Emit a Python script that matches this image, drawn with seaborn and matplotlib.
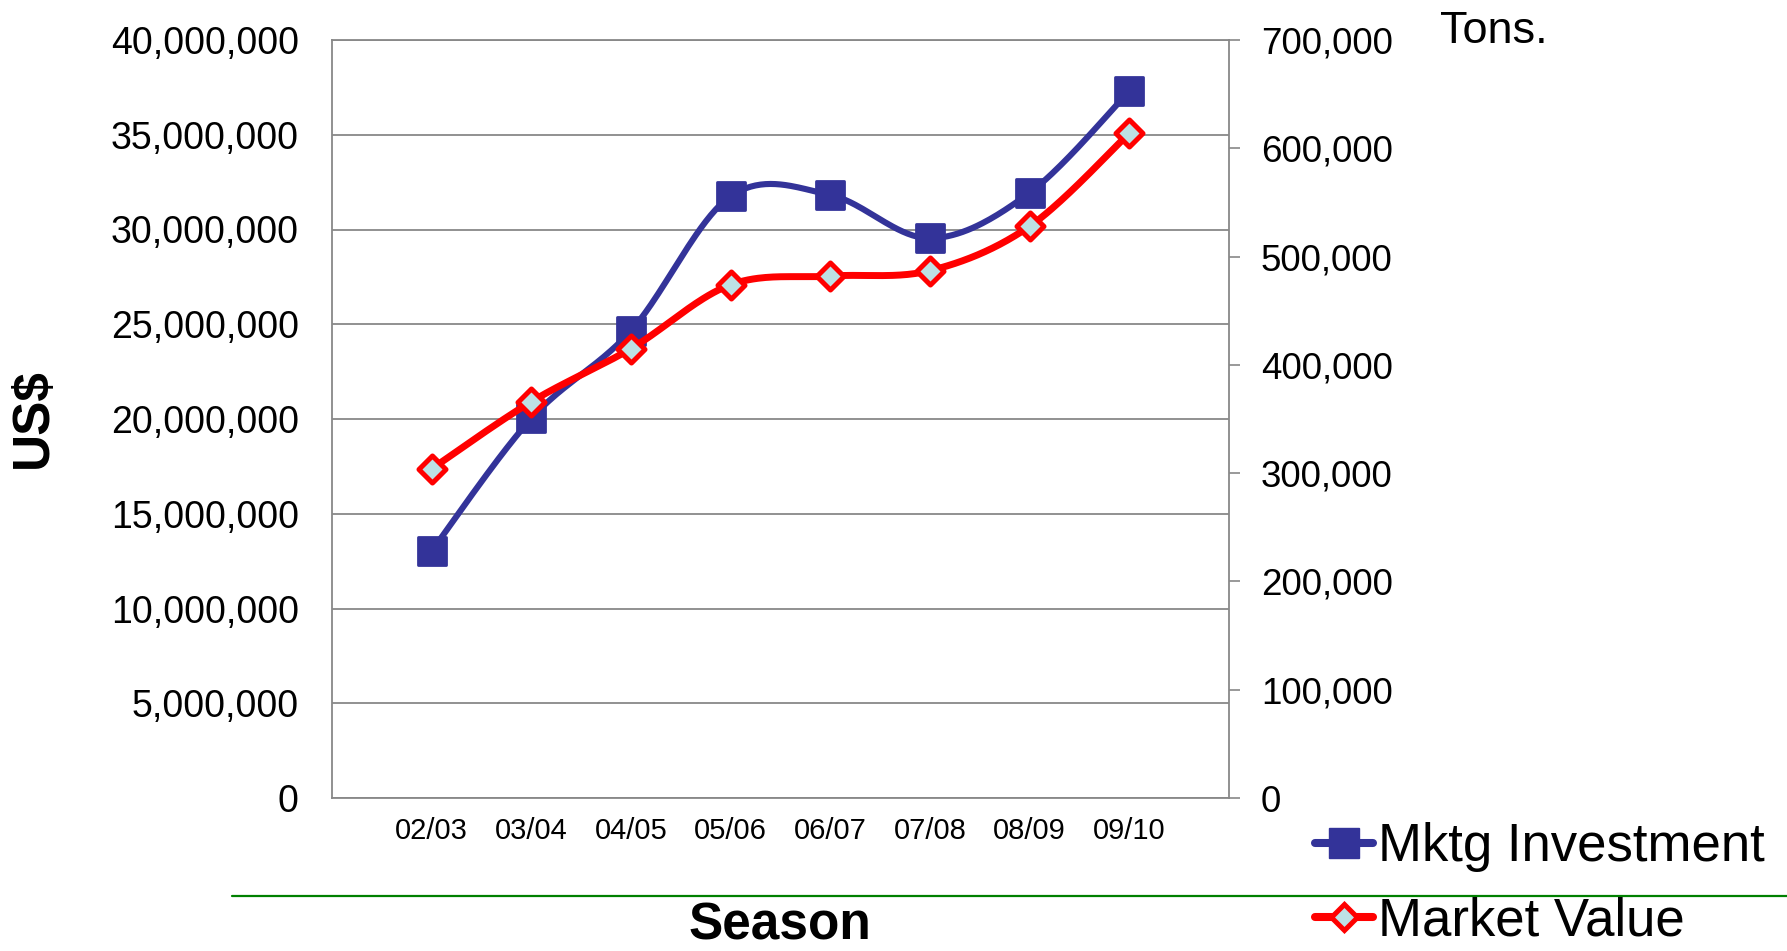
import numpy as np
import pandas as pd
import matplotlib
matplotlib.use("Agg")
import matplotlib.pyplot as plt
from matplotlib.lines import Line2D
from matplotlib.ticker import FuncFormatter
import seaborn as sns

# ---- data ----
seasons = ["02/03", "03/04", "04/05", "05/06", "06/07", "07/08", "08/09", "09/10"]
mktg_investment = [13.04e6, 20.03e6, 24.66e6, 31.76e6, 31.82e6, 29.54e6, 31.94e6, 37.30e6]  # US$
market_value = [304e3, 366e3, 415e3, 474e3, 482e3, 487e3, 528e3, 614e3]  # tons
left_ticks = list(range(0, 40_000_001, 5_000_000))
right_ticks = list(range(0, 700_001, 100_000))

BLUE = "#333399"
RED = "#FF0000"
DIAMOND_FILL = "#BDE1E5"
GRID = "#888888"
FONT = "Liberation Sans"


def smooth_curve(xs, ys, steps=40):
    """Bezier smoothing through every point (Catmull-Rom style tangents)."""
    xs = np.asarray(xs, float)
    ys = np.asarray(ys, float)
    n = len(xs)
    ox, oy = [], []
    for i in range(n - 1):
        p0 = (xs[max(i - 1, 0)], ys[max(i - 1, 0)])
        p1 = (xs[i], ys[i])
        p2 = (xs[i + 1], ys[i + 1])
        p3 = (xs[min(i + 2, n - 1)], ys[min(i + 2, n - 1)])
        b1 = (p1[0] + (p2[0] - p0[0]) / 6, p1[1] + (p2[1] - p0[1]) / 6)
        b2 = (p2[0] - (p3[0] - p1[0]) / 6, p2[1] - (p3[1] - p1[1]) / 6)
        t = np.linspace(0, 1, steps, endpoint=(i == n - 2))
        a, b, c, d = (1 - t) ** 3, 3 * t * (1 - t) ** 2, 3 * t ** 2 * (1 - t), t ** 3
        ox.extend(a * p1[0] + b * b1[0] + c * b2[0] + d * p2[0])
        oy.extend(a * p1[1] + b * b1[1] + c * b2[1] + d * p2[1])
    return np.array(ox), np.array(oy)


sns.set_style("white")
plt.rcParams["font.family"] = [FONT, "DejaVu Sans"]
plt.rcParams["text.color"] = "black"
plt.rcParams["xtick.color"] = "black"
plt.rcParams["ytick.color"] = "black"

W, H = 1787, 951
fig = plt.figure(figsize=(W / 100, H / 100), dpi=100)
L, R, T, B = 332, 1229, 40, 798
ax = fig.add_axes([L / W, 1 - B / H, (R - L) / W, (B - T) / H])
ax2 = ax.twinx()

pos = np.arange(len(seasons))
df = pd.DataFrame({"pos": pos, "season": seasons,
                   "mktg": mktg_investment, "value": market_value})

# Marketing investment (left axis, US$)
sx, sy = smooth_curve(df["pos"], df["mktg"])
sns.lineplot(x=sx, y=sy, ax=ax, sort=False, estimator=None, color=BLUE,
             linewidth=4.4, zorder=3, legend=False)
sns.scatterplot(data=df, x="pos", y="mktg", ax=ax, marker="s", s=400,
                color=BLUE, edgecolor=BLUE, linewidth=2, zorder=4,
                legend=False, clip_on=False)
for coll in ax.collections:
    coll.set_joinstyle("round")

# Market value (right axis, tons)
rx, ry = smooth_curve(df["pos"], df["value"])
sns.lineplot(x=rx, y=ry, ax=ax2, sort=False, estimator=None, color=RED,
             linewidth=5, zorder=3, legend=False)
sns.scatterplot(data=df, x="pos", y="value", ax=ax2, marker="D", s=190,
                color=DIAMOND_FILL, edgecolor=RED, linewidth=3.6, zorder=4,
                legend=False, clip_on=False)

# ---- axes ----
ax.set_xlim(-1, len(seasons))
ax.set_ylim(0, 40_000_000)
ax2.set_ylim(0, 700_000)
ax.set_yticks(left_ticks)
ax2.set_yticks(right_ticks)
fmt = FuncFormatter(lambda v, p: f"{v:,.0f}")
ax.yaxis.set_major_formatter(fmt)
ax2.yaxis.set_major_formatter(fmt)
ax.set_xticks(pos, seasons)
ax.set_xlabel("")
ax.set_ylabel("")
ax2.set_ylabel("")

ax.tick_params(axis="y", length=0, pad=24, labelsize=27, labelcolor="black")
ax.tick_params(axis="x", length=0, pad=14, labelsize=21, labelcolor="black")
ax2.tick_params(axis="y", direction="out", length=8, width=1.2, color=GRID,
                pad=15, labelsize=26.5, labelcolor="black")

ax.yaxis.grid(True, color=GRID, linewidth=1.3)
ax.xaxis.grid(False)
ax.set_axisbelow(True)
for side in ["left", "bottom", "top"]:
    ax.spines[side].set_visible(True)
    ax.spines[side].set_color(GRID)
    ax.spines[side].set_linewidth(1.3)
ax.spines["right"].set_visible(False)
for side in ["left", "bottom", "top"]:
    ax2.spines[side].set_visible(False)
ax2.spines["right"].set_visible(True)
ax2.spines["right"].set_color(GRID)
ax2.spines["right"].set_linewidth(1.3)

# ---- texts ----
fig.text(33 / W, 1 - 418 / H, "US$", rotation=90, fontsize=37, fontweight="bold",
         ha="center", va="center", color="black")
fig.text(780 / W, 1 - 940 / H, "Season", fontsize=37, fontweight="bold",
         ha="center", va="baseline", color="black")
fig.text(1440 / W, 1 - 43 / H, "Tons.", fontsize=32.5, ha="left",
         va="baseline", color="black")

# separator line under the chart
fig.add_artist(Line2D([232 / W, 1.0], [1 - 896 / H, 1 - 896 / H],
                      transform=fig.transFigure, color="#008000", linewidth=1.6))

# ---- legend ----
handles = [
    Line2D([], [], color=BLUE, linewidth=5.8, marker="s", markersize=22,
           markerfacecolor=BLUE, markeredgecolor=BLUE, solid_capstyle="round"),
    Line2D([], [], color=RED, linewidth=5.8, marker="D", markersize=13,
           markerfacecolor=DIAMOND_FILL, markeredgecolor=RED, markeredgewidth=3.6,
           solid_capstyle="round"),
]
fig.legend(handles, ["Mktg Investment", "Market Value"], loc="upper left",
           bbox_to_anchor=(1315 / W, 1 - 822 / H), frameon=False, fontsize=38,
           handlelength=1.1, handletextpad=0.1, labelspacing=0.47,
           borderpad=0, borderaxespad=0, labelcolor="black")

fig.savefig("out.png", dpi=100)
